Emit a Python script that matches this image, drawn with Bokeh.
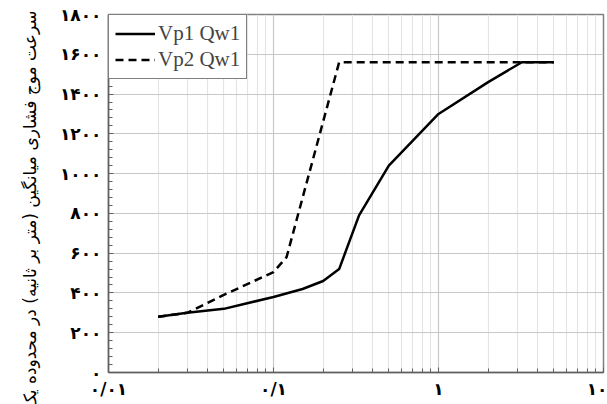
from bokeh.plotting import figure
from bokeh.models import FixedTicker, Legend, LegendItem, Range1d, Title
from bokeh.embed import file_html
from bokeh.resources import INLINE

# ---- data ----
vp1_x = [0.02, 0.03, 0.05, 0.1, 0.15, 0.2, 0.25, 0.33, 0.5, 1.0, 2.0, 3.2, 5.0]
vp1_y = [280, 300, 320, 380, 420, 460, 520, 790, 1040, 1300, 1460, 1560, 1560]
vp2_x = [0.02, 0.03, 0.05, 0.1, 0.12, 0.25, 5.0]
vp2_y = [280, 300, 390, 505, 580, 1560, 1560]

x_ticks = [0.01, 0.1, 1, 10]
x_tick_labels = ["۰/۰۱", "۰/۱", "۱", "۱۰"]
x_minor = [m * d for d in (0.01, 0.1, 1) for m in range(2, 10)]
y_ticks = [0, 200, 400, 600, 800, 1000, 1200, 1400, 1600, 1800]
y_tick_labels = ["۰", "۲۰۰", "۴۰۰", "۶۰۰", "۸۰۰", "۱۰۰۰", "۱۲۰۰", "۱۴۰۰", "۱۶۰۰", "۱۸۰۰"]
y_minor = list(range(0, 1801, 40))
y_title = "سرعت موج فشاری میانگین (متر بر ثانیه) در محدوده یک چاه"
series_names = ["Vp1 Qw1", "Vp2 Qw1"]

p = figure(width=607, height=404, x_axis_type="log",
           x_range=Range1d(0.01, 10), y_range=Range1d(0, 1800),
           output_backend="svg", toolbar_location=None,
           min_border_left=108, min_border_right=4, min_border_top=14,
           min_border_bottom=32)

p.outline_line_color = "#808080"
p.outline_line_width = 1.5
p.background_fill_color = "white"
p.border_fill_color = "white"

# ticks
p.xaxis.ticker = FixedTicker(ticks=x_ticks, minor_ticks=x_minor)
p.yaxis.ticker = FixedTicker(ticks=y_ticks, minor_ticks=y_minor)
p.xaxis.major_label_overrides = {t: l for t, l in zip(x_ticks, x_tick_labels)}
p.yaxis.major_label_overrides = {t: l for t, l in zip(y_ticks, y_tick_labels)}

for ax in (p.xaxis, p.yaxis):
    ax.axis_line_color = "#606060"
    ax.axis_line_width = 1.5
    ax.major_tick_in = 5
    ax.major_tick_out = 0
    ax.minor_tick_in = 4
    ax.minor_tick_out = 0
    ax.major_tick_line_color = "#606060"
    ax.minor_tick_line_color = "#606060"
    ax.major_label_text_font = "DejaVu Sans"
    ax.major_label_text_font_style = "bold"
    ax.major_label_text_font_size = "17px"
    ax.major_label_text_color = "black"
p.xaxis.major_label_standoff = 6
p.yaxis.major_label_standoff = 7

# grids
p.xgrid.grid_line_color = "#c8c8c8"
p.xgrid.grid_line_width = 1.2
p.xgrid.minor_grid_line_color = "#e4e4e4"
p.xgrid.minor_grid_line_width = 1.2
p.ygrid.grid_line_color = "#c8c8c8"
p.ygrid.grid_line_width = 1.2

r1 = p.line(vp1_x, vp1_y, line_color="black", line_width=2.5)
r2 = p.line(vp2_x, vp2_y, line_color="black", line_width=2.5, line_dash="8 5")

legend = Legend(items=[LegendItem(label=series_names[0], renderers=[r1]),
                       LegendItem(label=series_names[1], renderers=[r2])],
                location="top_left", margin=0, padding=6, spacing=1,
                glyph_width=40, glyph_height=23, label_height=23,
                label_standoff=3,
                label_text_font="Liberation Serif", label_text_font_size="21px",
                border_line_color="black", border_line_width=1.5,
                background_fill_alpha=1.0)
p.add_layout(legend)

title = Title(text=y_title, align="right", vertical_align="top",
              text_font="DejaVu Sans",
              text_font_size="17px", text_font_style="normal",
              text_color="black", standoff=30, offset=-4)
p.add_layout(title, "left")

open("out.html", "w").write(file_html(p, INLINE))
